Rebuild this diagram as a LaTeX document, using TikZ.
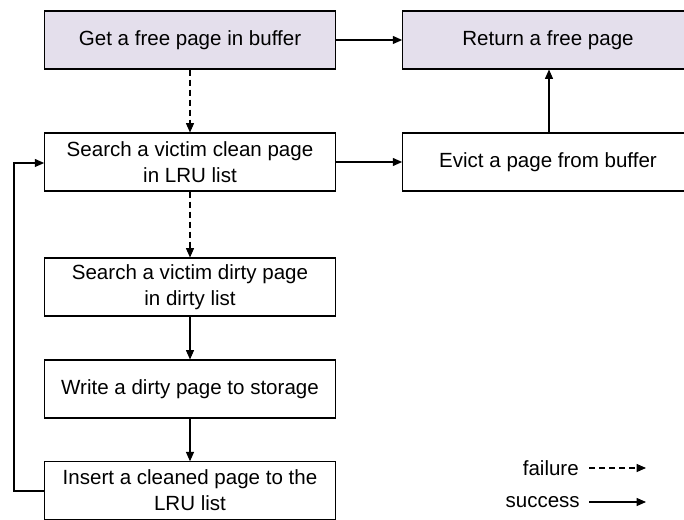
\documentclass[tikz,border=0pt]{standalone}
\usepackage{fontspec}
\setmainfont{Liberation Sans}
\usetikzlibrary{arrows.meta}
\definecolor{lav}{HTML}{E4DFEC}
\begin{document}
\begin{tikzpicture}[x=0.75pt,y=-0.75pt,
  box/.style={draw,line width=0.8pt,minimum width=218pt,minimum height=43.5pt,inner sep=0pt,align=center,font=\fontsize{15.4}{19.5}\selectfont},
  wide/.style={box,minimum width=218pt},
  conn/.style={line width=0.8pt,-{Triangle[length=7pt,width=6pt]}},
  fail/.style={conn,dash pattern=on 4.5pt off 3pt},
  lbl/.style={font=\fontsize{15.4}{19.5}\selectfont,inner sep=0pt,anchor=east}]
\clip (0,0) rectangle (684,520);
\node[box,fill=lav] (get) at (190,40) {Get a free page in buffer};
\node[wide,fill=lav] (ret) at (548,40) {Return a free page};
\node[box] (clean) at (190,162) {Search a victim clean page\\in LRU list};
\node[wide] (evict) at (548,162) {Evict a page from buffer};
\node[box] (dirty) at (190,287) {Search a victim dirty page\\in dirty list};
\node[box] (write) at (190,389) {Write a dirty page to storage};
\node[box,minimum height=43pt] (insert) at (190,490.5) {Insert a cleaned page to the\\LRU list};
\draw[conn] (get) -- (ret);
\draw[fail] (get) -- (clean);
\draw[conn] (clean) -- (evict);
\draw[conn] (evict.north -| 549,0) -- (ret.south -| 549,0);
\draw[fail] (clean) -- (dirty);
\draw[conn] (dirty) -- (write);
\draw[conn] (write) -- (insert);
\coordinate (lb) at (14,491);
\coordinate (lt) at (14,163);
\draw[conn] (insert.west |- lb) -- (lb) -- (lt) -- (clean.west |- lt);
\node[lbl] (fl) at (579,468) {failure};
\node[lbl] (sl) at (580,502) {success};
\coordinate (fe) at (646,468);
\coordinate (se) at (646,502);
\draw[fail] ([xshift=7.5pt]fl.east) -- (fe);
\draw[conn] ([xshift=6.75pt]sl.east) -- (se);
\end{tikzpicture}
\end{document}
